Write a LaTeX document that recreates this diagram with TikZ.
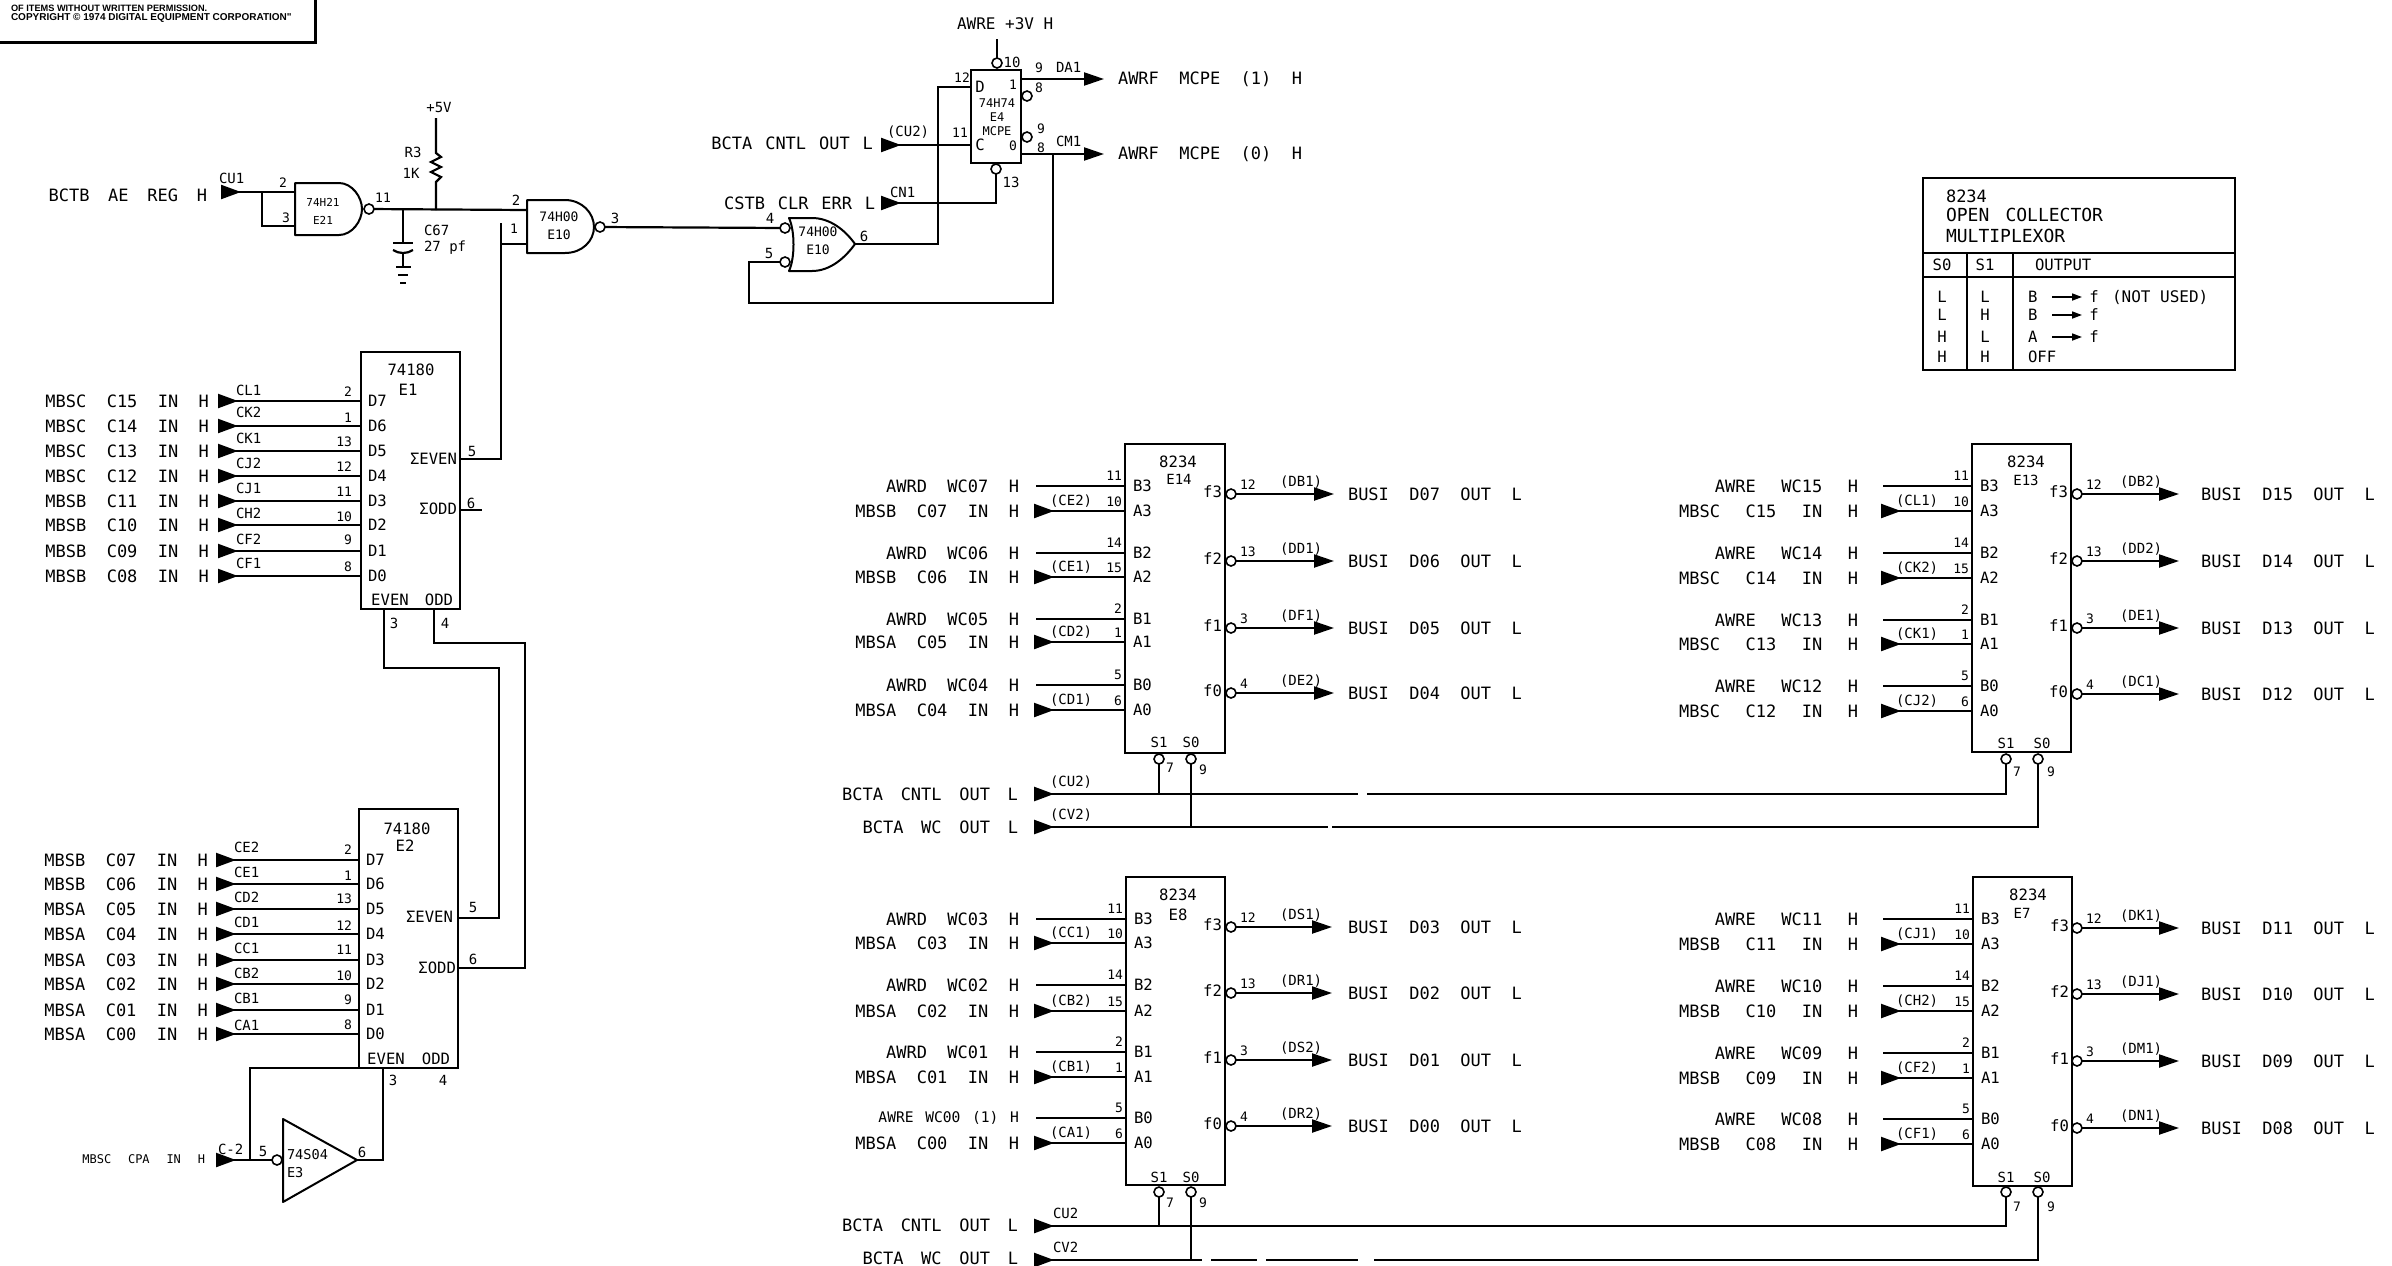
\documentclass[tikz,border=0pt]{standalone}
\usepackage{fontspec}
\usetikzlibrary{arrows.meta}
\newfontfamily\fsig{DejaVu Sans Mono}
\newfontfamily\fcopy{Liberation Sans Bold}
\newcount\lblc
\newcommand\lbl[4][]{\global\advance\lblc by 1\relax\node[pinf,#1] (t\the\lblc) at (#2,#3) {#4};}
\tikzset{
 wire/.style={line width=1.1pt,line join=miter},
 thin wire/.style={line width=0.8pt},
 inw/.style={wire,{Triangle[reversed,length=10pt,width=7pt]}-},
 outw/.style={wire,-{Triangle[length=10pt,width=6.5pt]}},
 bubble/.style={circle,draw,line width=0.8pt,fill=white,minimum size=5pt,inner sep=0,outer sep=0},
 chipbox/.style={draw,line width=1pt,anchor=north west,inner sep=0,outer sep=0},
 gate/.style={line width=1pt,line join=round},
 sigs/.style={font=\fsig\fontsize{8.5}{10}\selectfont\spaceskip #1\relax,inner sep=0,outer sep=0},
 sig/.style={sigs=1.2em},
 sigw/.style={sigs=1.5em},
 pinf/.style={font=\fsig\fontsize{7}{8}\selectfont,inner sep=0,outer sep=0},
 pinn/.style={font=\fsig\fontsize{6.5}{8}\selectfont,inner sep=0,outer sep=0},
 insidef/.style={font=\fsig\fontsize{7.8}{9}\selectfont,inner sep=0,outer sep=0},
 gatef/.style={font=\fsig\fontsize{6.5}{9}\selectfont,inner sep=0,outer sep=0,align=center},
 busgap/.style={white,line width=2.4pt},
 cursig/.style={sig}
}
% 8234 multiplexer helpers
\newcommand\muxchip[5]{\def\cN{#1}\def\cL{#2}\def\cR{#3}%
 \node[chipbox,minimum width={(#3-#2)*0.5pt},minimum height={(#5-#4)*0.5pt}] (#1) at (#2,#4) {};}
\newcommand\muxB[4]{% pin, y, number, signal
 \coordinate (\cN-#1) at (\cL,#2);\coordinate (\cN-#1s) at (\cS,#2);
 \draw[wire] (\cN-#1s) -- (\cN-#1);
 \lbl[cursig,anchor=east]{\cE}{#2}{#4}
 \lbl[pinn,anchor=east]{\cL-3}{#2-10}{#3}
 \lbl[insidef,anchor=west]{\cL+8}{#2}{#1}}
\newcommand\muxA[5]{% pin, y, number, signal, wire label
 \coordinate (\cN-#1) at (\cL,#2);\coordinate (\cN-#1s) at (\cS-2,#2);
 \draw[inw] (\cN-#1s) -- (\cN-#1);
 \lbl[cursig,anchor=east]{\cE}{#2}{#4}
 \lbl[pinn,anchor=east]{\cL-3}{#2-9}{#3}
 \lbl[pinf,anchor=west]{\cW}{#2-10}{#5}
 \lbl[insidef,anchor=west]{\cL+8}{#2}{#1}}
\newcommand\muxF[5]{% index, y, number, wire label, signal
 \node[bubble] (\cN-f#1) at (\cB,#2) {};
 \coordinate (\cN-t#1) at (\cT,#2);
 \draw[outw] (\cN-f#1) -- (\cN-t#1);
 \lbl[insidef,anchor=east]{\cR-3}{#2-2}{f#1}
 \lbl[pinn,anchor=west]{\cB+9}{#2-9}{#3}
 \lbl[pinf,anchor=west]{\cB+\cQ}{#2-12}{#4}
 \lbl[cursig,anchor=west]{\cO}{#2}{#5}}
% 74180 rows
\newcommand\parrow[7]{% pin, y, signal, wire label, wl y, number, number y
 \coordinate (\cN-#1) at (\cL,#2);\coordinate (\cN-#1s) at (\cS,#2);
 \draw[inw] (\cN-#1s) -- (\cN-#1);
 \lbl[sig,anchor=east]{\cE}{#2}{#3}
 \lbl[pinf,anchor=west]{\cW}{#5}{#4}
 \lbl[pinn,anchor=east]{\cP}{#7}{#6}
 \lbl[insidef,anchor=west]{\cL+7}{#2}{#1}}
\begin{document}
\begin{tikzpicture}[x=0.5pt,y=-0.5pt]
\useasboundingbox (0,0) rectangle (2392,1265);
% copyright box
\coordinate (cbA) at (0,42);\coordinate (cbB) at (315,42);\coordinate (cbC) at (315,0);
\draw[line width=1.5pt] (cbA) -- (cbB) -- (cbC);
\lbl[font=\fcopy\fontsize{4.6}{6}\selectfont,anchor=west]{11}{8}{OF ITEMS WITHOUT WRITTEN PERMISSION.}
\lbl[font=\fcopy\fontsize{5}{6}\selectfont,anchor=west]{11}{18}{COPYRIGHT © 1974 DIGITAL EQUIPMENT CORPORATION"}

% ---- E21 NAND
\coordinate (e21a) at (295,192);\coordinate (e21b) at (295,226);\coordinate (e21j) at (262,192);\coordinate (cu1) at (221,192);
\draw[gate] (295,183) -- (339,183) .. controls (352,183) and (362,197) .. (362,209) .. controls (362,221) and (352,235) .. (339,235) -- (295,235) -- cycle;
\node[bubble] (e21o) at (369,209) {};
\draw[inw] (cu1) -- (e21a);
\draw[thin wire] (e21j) |- (e21b);
\lbl[sigs=1.1em,anchor=east]{207}{195}{BCTB AE REG H}
\lbl[pinf,anchor=west]{219}{178}{CU1}
\lbl[pinn]{283}{183}{2}
\lbl[pinn]{286}{218}{3}
\node[gatef,font=\fsig\fontsize{5.5}{9}\selectfont] (E21) at (323,211) {74H21\\E21};
\lbl[pinn]{383}{198}{11}

% ---- E10 NAND
\coordinate (e10a) at (527,210);\coordinate (e10b) at (527,244);
\draw[gate] (527,200) -- (565,200) .. controls (582,200) and (594,213) .. (594,227) .. controls (594,241) and (582,253) .. (565,253) -- (527,253) -- cycle;
\node[bubble] (e10o) at (600,227) {};
\draw[wire] (e21o) -- (e10a);
\node[gatef] (E10a) at (559,226) {74H00\\E10};
\lbl[pinf]{516}{200}{2}
\lbl[pinn]{514}{229}{1}
\lbl[pinf]{615}{218}{3}

% ---- R3 and C67
\coordinate (vcc) at (436,118);\coordinate (r3a) at (436,153);\coordinate (r3b) at (436,182);\coordinate (rj) at (436,210);
\draw[wire] (vcc) -- (r3a) -- ++(5,4) -- ++(-10,5) -- ++(10,5) -- ++(-10,5) -- ++(10,5) -- (r3b) -- (rj);
\lbl[pinf]{439}{107}{+5V}
\lbl[pinf]{413}{152}{R3}
\lbl[pinf]{411}{173}{1K}
\coordinate (cj) at (403,210);\coordinate (cp1) at (403,243);\coordinate (cp2) at (403,252);\coordinate (gnd) at (403,267);
\draw[wire] (cj) -- (cp1);
\draw[wire] (393,243) -- (413,243);
\draw[wire] (393,250) .. controls (399,254) and (407,254) .. (413,250);
\draw[wire] (cp2) -- (gnd);
\draw[wire] (396,267) -- (411,267);
\draw[wire] (398,275) -- (408,275);
\draw[wire] (400,283) -- (406,283);
\lbl[pinf,anchor=west]{424}{230}{C67}
\lbl[pinf,anchor=west]{424}{248}{27 pf}

% ---- E10 NOR-shaped gate
\draw[gate] (789,218) -- (812,218) .. controls (830,218) and (845,230) .. (855,244) .. controls (845,258) and (830,271) .. (812,271) -- (789,271) .. controls (795,258) and (795,231) .. (789,218) -- cycle;
\node[bubble] (n4) at (785,228) {};
\node[bubble] (n5) at (785,262) {};
\coordinate (nout) at (855,244);
\draw[wire] (e10o) -- (n4);
\node[gatef] (E10b) at (818,241) {74H00\\E10};
\lbl[pinf]{770}{218}{4}
\lbl[pinf]{769}{253}{5}
\lbl[pinf]{864}{236}{6}

% ---- E4 flip-flop
\node[chipbox,minimum width=25pt,minimum height=46.5pt] (E4) at (971,70) {};
\coordinate (e4D) at (971,87);\coordinate (e4C) at (971,145);\coordinate (e4Q) at (1021,79);\coordinate (e4N) at (1021,154);
\node[bubble] (e4t) at (997,63) {};
\node[bubble] (e4b) at (996,169) {};
\node[bubble] (e4q1) at (1027,96) {};
\node[bubble] (e4q2) at (1027,137) {};
\coordinate (e4up) at (997,39);
\draw[wire] (e4t) -- (e4up);
\coordinate (dbend) at (938,87);
\draw[wire] (nout) -| (dbend) -- (e4D);
\coordinate (cu2a) at (881,145);
\draw[inw] (cu2a) -- (e4C);
\coordinate (cn1a) at (881,203);
\draw[inw] (cn1a) -| (e4b);
\coordinate (oq1) at (1104,79);\coordinate (oq2) at (1104,154);
\draw[outw] (e4Q) -- (oq1);
\draw[outw] (e4N) -- (oq2);
\coordinate (fb1) at (1053,154);\coordinate (fb2) at (749,303);
\draw[wire] (fb1) |- (fb2) |- (n5);
\lbl[pinf]{1012}{62}{10}
\lbl[pinn]{1039}{68}{9}
\lbl[pinf,anchor=west]{1056}{67}{DA1}
\lbl[pinn]{1013}{85}{1}
\lbl[pinn]{1039}{88}{8}
\lbl[pinn]{962}{78}{12}
\lbl[insidef]{980}{87}{D}
\node[gatef,font=\fsig\fontsize{6}{7}\selectfont] (E4t) at (997,117) {74H74\\E4\\MCPE};
\lbl[pinn]{960}{133}{11}
\lbl[insidef]{980}{145}{C}
\lbl[pinn]{1013}{146}{0}
\lbl[pinn]{1041}{129}{9}
\lbl[pinn]{1041}{148}{8}
\lbl[pinf,anchor=west]{1056}{141}{CM1}
\lbl[pinf]{1011}{182}{13}
\lbl[sig,anchor=west,font=\fsig\fontsize{8}{9}\selectfont]{957}{24}{AWRE +3V H}
\lbl[sig,anchor=west]{1118}{79}{AWRF MCPE (1) H}
\lbl[sig,anchor=west]{1118}{154}{AWRF MCPE (0) H}
\lbl[sigs=0.76em,anchor=east]{873}{143}{BCTA CNTL OUT L}
\lbl[pinf,anchor=west]{887}{132}{(CU2)}
\lbl[sigs=0.75em,anchor=east]{875}{203}{CSTB CLR ERR L}
\lbl[pinf,anchor=west]{890}{192}{CN1}

% ---- E1 74180
\node[chipbox,minimum width=49.5pt,minimum height=128.5pt] (E1) at (361,352) {};
\def\cN{E1}\def\cL{361}\def\cS{218}\def\cE{209}\def\cW{236}\def\cP{352}
\parrow{D7}{401}{MBSC C15 IN H}{CL1}{390}{2}{392}
\parrow{D6}{426}{MBSC C14 IN H}{CK2}{412}{1}{418}
\parrow{D5}{451}{MBSC C13 IN H}{CK1}{438}{13}{442}
\parrow{D4}{476}{MBSC C12 IN H}{CJ2}{463}{12}{467}
\parrow{D3}{501}{MBSB C11 IN H}{CJ1}{488}{11}{492}
\parrow{D2}{525}{MBSB C10 IN H}{CH2}{513}{10}{517}
\parrow{D1}{551}{MBSB C09 IN H}{CF2}{539}{9}{540}
\parrow{D0}{576}{MBSB C08 IN H}{CF1}{563}{8}{567}
\lbl[insidef]{411}{370}{74180}
\lbl[insidef]{408}{390}{E1}
\lbl[insidef,anchor=east]{457}{459}{ΣEVEN}
\lbl[insidef,anchor=east]{457}{509}{ΣODD}
\lbl[insidef]{390}{600}{EVEN}
\lbl[insidef]{439}{600}{ODD}
\lbl[pinf]{472}{451}{5}
\lbl[pinf]{471}{503}{6}
\lbl[pinf]{394}{623}{3}
\lbl[pinf]{445}{623}{4}
\coordinate (e1ev) at (460,459);\coordinate (e1od) at (460,510);\coordinate (e1odx) at (482,510);\coordinate (e1p3) at (384,609);\coordinate (e1p4) at (434,609);
\coordinate (ev1) at (501,223);\coordinate (evT) at (501,244);
\draw[wire] (e1ev) -| (ev1);
\draw[wire] (evT) -- (e10b);
\draw[wire] (e1od) -- (e1odx);

% ---- E2 74180
\node[chipbox,minimum width=49.5pt,minimum height=129.5pt] (E2) at (359,809) {};
\def\cN{E2}\def\cL{359}\def\cS{216}\def\cE{208}\def\cW{234}\def\cP{352}
\parrow{D7}{860}{MBSB C07 IN H}{CE2}{847}{2}{850}
\parrow{D6}{884}{MBSB C06 IN H}{CE1}{872}{1}{876}
\parrow{D5}{909}{MBSA C05 IN H}{CD2}{897}{13}{899}
\parrow{D4}{934}{MBSA C04 IN H}{CD1}{922}{12}{926}
\parrow{D3}{960}{MBSA C03 IN H}{CC1}{948}{11}{950}
\parrow{D2}{984}{MBSA C02 IN H}{CB2}{973}{10}{976}
\parrow{D1}{1010}{MBSA C01 IN H}{CB1}{998}{9}{1000}
\parrow{D0}{1034}{MBSA C00 IN H}{CA1}{1025}{8}{1025}
\lbl[insidef]{407}{829}{74180}
\lbl[insidef]{405}{846}{E2}
\lbl[insidef,anchor=east]{453}{917}{ΣEVEN}
\lbl[insidef,anchor=east]{456}{968}{ΣODD}
\lbl[insidef]{386}{1059}{EVEN}
\lbl[insidef]{436}{1059}{ODD}
\lbl[pinf]{473}{907}{5}
\lbl[pinf]{473}{959}{6}
\lbl[pinf]{393}{1080}{3}
\lbl[pinf]{443}{1080}{4}
\coordinate (e2ev) at (458,918);\coordinate (e2od) at (458,968);\coordinate (e2p3) at (383,1068);\coordinate (e2p4) at (433,1068);
\coordinate (l3a) at (499,668);\coordinate (l3b) at (499,918);\coordinate (l4a) at (525,643);\coordinate (l4b) at (525,968);
\draw[wire] (e1p3) |- (l3a) -- (l3b) -- (e2ev);
\draw[wire] (e1p4) |- (l4a) -- (l4b) -- (e2od);

% ---- E3 inverter
\draw[gate] (283,1119) -- (357,1160) -- (283,1202) -- cycle;
\node[bubble] (e3i) at (277,1160) {};
\coordinate (e3o) at (357,1160);\coordinate (c2a) at (216,1160);\coordinate (e3j) at (250,1160);\coordinate (lpb) at (250,1226);
\draw[inw] (c2a) -- (e3i);
\draw[wire] (e3o) -| (e2p3);
\draw[wire] (e3j) |- (e2p4);
\lbl[pinf,anchor=west]{218}{1149}{C-2}
\lbl[pinf]{263}{1151}{5}
\lbl[pinf]{362}{1152}{6}
\node[gatef,anchor=west,align=left,font=\fsig\fontsize{6.8}{9}\selectfont] (E3) at (287,1164) {74S04\\E3};
\lbl[pinf,anchor=east,font=\fsig\fontsize{6}{7}\selectfont\spaceskip 1.4em\relax]{205}{1159}{MBSC CPA IN H}

% ---- E14
\tikzset{cursig/.style={sig}}
\muxchip{E14}{1125}{1225}{444}{753}
\def\cS{1036}\def\cE{1019}\def\cW{1050}\def\cB{1231}\def\cT{1334}\def\cO{1348}\def\cQ{49}
\muxB{B3}{486}{11}{AWRD WC07 H}
\muxA{A3}{511}{10}{MBSB C07 IN H}{(CE2)}
\muxB{B2}{553}{14}{AWRD WC06 H}
\muxA{A2}{577}{15}{MBSB C06 IN H}{(CE1)}
\muxB{B1}{619}{2}{AWRD WC05 H}
\muxA{A1}{642}{1}{MBSA C05 IN H}{(CD2)}
\muxB{B0}{685}{5}{AWRD WC04 H}
\muxA{A0}{710}{6}{MBSA C04 IN H}{(CD1)}
\muxF{3}{494}{12}{(DB1)}{BUSI D07 OUT L}
\muxF{2}{561}{13}{(DD1)}{BUSI D06 OUT L}
\muxF{1}{628}{3}{(DF1)}{BUSI D05 OUT L}
\muxF{0}{693}{4}{(DE2)}{BUSI D04 OUT L}
\lbl[insidef]{1178}{462}{8234}
\lbl[pinf]{1179}{479}{E14}
\lbl[pinf]{1159}{742}{S1}
\lbl[pinf]{1191}{742}{S0}
\node[bubble] (E14-s1) at (1159,759) {};
\node[bubble] (E14-s0) at (1191,759) {};
\lbl[pinn]{1170}{768}{7}
\lbl[pinn]{1203}{770}{9}

% ---- E13
\tikzset{cursig/.style={sigw}}
\muxchip{E13}{1972}{2071}{444}{752}
\def\cS{1883}\def\cE{1858}\def\cW{1896}\def\cB{2077}\def\cT{2179}\def\cO{2201}\def\cQ{43}
\muxB{B3}{486}{11}{AWRE WC15 H}
\muxA{A3}{511}{10}{MBSC C15 IN H}{(CL1)}
\muxB{B2}{553}{14}{AWRE WC14 H}
\muxA{A2}{578}{15}{MBSC C14 IN H}{(CK2)}
\muxB{B1}{620}{2}{AWRE WC13 H}
\muxA{A1}{644}{1}{MBSC C13 IN H}{(CK1)}
\muxB{B0}{686}{5}{AWRE WC12 H}
\muxA{A0}{711}{6}{MBSC C12 IN H}{(CJ2)}
\tikzset{cursig/.style={sig}}
\muxF{3}{494}{12}{(DB2)}{BUSI D15 OUT L}
\muxF{2}{561}{13}{(DD2)}{BUSI D14 OUT L}
\muxF{1}{628}{3}{(DE1)}{BUSI D13 OUT L}
\muxF{0}{694}{4}{(DC1)}{BUSI D12 OUT L}
\lbl[insidef]{2026}{462}{8234}
\lbl[pinf]{2026}{480}{E13}
\lbl[pinf]{2006}{743}{S1}
\lbl[pinf]{2042}{743}{S0}
\node[bubble] (E13-s1) at (2006,759) {};
\node[bubble] (E13-s0) at (2038,759) {};
\lbl[pinn]{2017}{772}{7}
\lbl[pinn]{2051}{772}{9}

% ---- upper select buses
\coordinate (buAs) at (1034,794);\coordinate (buAj) at (1159,794);
\coordinate (buBs) at (1034,827);\coordinate (buBj) at (1191,827);
\draw[inw,line width=1.3pt] (buAs) -| (E13-s1);
\draw[inw,line width=1.3pt] (buBs) -| (E13-s0);
\draw[wire] (E14-s1) -- (buAj);
\draw[wire] (E14-s0) -- (buBj);
\draw[busgap] (1358,794) -- (1367,794);
\draw[busgap] (1328,827) -- (1332,827);
\lbl[sigs=1.04em,anchor=east]{1018}{794}{BCTA CNTL OUT L}
\lbl[sigs=1.04em,anchor=east]{1018}{827}{BCTA WC OUT L}
\lbl[pinf,anchor=west]{1050}{782}{(CU2)}
\lbl[pinf,anchor=west]{1050}{815}{(CV2)}

% ---- E8
\tikzset{cursig/.style={sig}}
\muxchip{E8}{1126}{1225}{877}{1185}
\def\cS{1036}\def\cE{1019}\def\cW{1050}\def\cB{1231}\def\cT{1332}\def\cO{1348}\def\cQ{49}
\muxB{B3}{919}{11}{AWRD WC03 H}
\muxA{A3}{943}{10}{MBSA C03 IN H}{(CC1)}
\muxB{B2}{985}{14}{AWRD WC02 H}
\muxA{A2}{1011}{15}{MBSA C02 IN H}{(CB2)}
\muxB{B1}{1052}{2}{AWRD WC01 H}
\muxA{A1}{1077}{1}{MBSA C01 IN H}{(CB1)}
\muxB{B0}{1118}{5}{{\fontsize{7.3}{9}\selectfont\spaceskip 0.8em\relax AWRE WC00 (1) H}}
\muxA{A0}{1143}{6}{MBSA C00 IN H}{(CA1)}
\muxF{3}{927}{12}{(DS1)}{BUSI D03 OUT L}
\muxF{2}{993}{13}{(DR1)}{BUSI D02 OUT L}
\muxF{1}{1060}{3}{(DS2)}{BUSI D01 OUT L}
\muxF{0}{1126}{4}{(DR2)}{BUSI D00 OUT L}
\lbl[insidef]{1178}{895}{8234}
\lbl[insidef]{1178}{915}{E8}
\lbl[pinf]{1159}{1177}{S1}
\lbl[pinf]{1191}{1177}{S0}
\node[bubble] (E8-s1) at (1159,1192) {};
\node[bubble] (E8-s0) at (1191,1192) {};
\lbl[pinn]{1170}{1203}{7}
\lbl[pinn]{1203}{1203}{9}

% ---- E7
\tikzset{cursig/.style={sigw}}
\muxchip{E7}{1973}{2072}{877}{1186}
\def\cS{1883}\def\cE{1858}\def\cW{1896}\def\cB{2077}\def\cT{2179}\def\cO{2201}\def\cQ{43}
\muxB{B3}{919}{11}{AWRE WC11 H}
\muxA{A3}{944}{10}{MBSB C11 IN H}{(CJ1)}
\muxB{B2}{986}{14}{AWRE WC10 H}
\muxA{A2}{1011}{15}{MBSB C10 IN H}{(CH2)}
\muxB{B1}{1053}{2}{AWRE WC09 H}
\muxA{A1}{1078}{1}{MBSB C09 IN H}{(CF2)}
\muxB{B0}{1119}{5}{AWRE WC08 H}
\muxA{A0}{1144}{6}{MBSB C08 IN H}{(CF1)}
\tikzset{cursig/.style={sig}}
\muxF{3}{928}{12}{(DK1)}{BUSI D11 OUT L}
\muxF{2}{994}{13}{(DJ1)}{BUSI D10 OUT L}
\muxF{1}{1061}{3}{(DM1)}{BUSI D09 OUT L}
\muxF{0}{1128}{4}{(DN1)}{BUSI D08 OUT L}
\lbl[insidef]{2028}{895}{8234}
\lbl[pinf]{2022}{913}{E7}
\lbl[pinf]{2006}{1177}{S1}
\lbl[pinf]{2042}{1177}{S0}
\node[bubble] (E7-s1) at (2006,1192) {};
\node[bubble] (E7-s0) at (2038,1192) {};
\lbl[pinn]{2017}{1207}{7}
\lbl[pinn]{2051}{1207}{9}

% ---- lower select buses
\coordinate (bvAs) at (1034,1226);\coordinate (bvAj) at (1159,1226);
\coordinate (bvBs) at (1034,1260);\coordinate (bvBj) at (1191,1260);
\draw[inw,line width=1.3pt] (bvAs) -| (E7-s1);
\draw[inw,line width=1.3pt] (bvBs) -| (E7-s0);
\draw[wire] (E8-s1) -- (bvAj);
\draw[wire] (E8-s0) -- (bvBj);
\draw[busgap] (1202,1260) -- (1211,1260);
\draw[busgap] (1257,1260) -- (1266,1260);
\draw[busgap] (1358,1260) -- (1374,1260);
\lbl[sigs=1.04em,anchor=east]{1018}{1225}{BCTA CNTL OUT L}
\lbl[sigs=1.04em,anchor=east]{1018}{1258}{BCTA WC OUT L}
\lbl[pinf,anchor=west]{1053}{1213}{CU2}
\lbl[pinf,anchor=west]{1053}{1247}{CV2}

% ---- function table
\node[chipbox,minimum width=156pt,minimum height=96pt] (tbl) at (1923,178) {};
\coordinate (hL1) at (1923,253);\coordinate (hR1) at (2235,253);
\coordinate (hL2) at (1923,277);\coordinate (hR2) at (2235,277);
\coordinate (v1a) at (1967,253);\coordinate (v1b) at (1967,370);
\coordinate (v2a) at (2013,253);\coordinate (v2b) at (2013,370);
\draw[wire] (hL1) -- (hR1);\draw[wire] (hL2) -- (hR2);
\draw[wire] (v1a) -- (v1b);\draw[wire] (v2a) -- (v2b);
\lbl[sig,anchor=west]{1946}{196}{8234}
\lbl[sig,anchor=west,font=\fsig\fontsize{9}{10}\selectfont\spaceskip 0.9em\relax]{1946}{215}{OPEN COLLECTOR}
\lbl[sig,anchor=west,font=\fsig\fontsize{9}{10}\selectfont]{1946}{236}{MULTIPLEXOR}
\lbl[insidef]{1942}{265}{S0}
\lbl[insidef]{1985}{265}{S1}
\lbl[insidef,anchor=west]{2035}{265}{OUTPUT}
\lbl[insidef]{1942}{297}{L}\lbl[insidef]{1985}{297}{L}
\lbl[insidef]{1942}{315}{L}\lbl[insidef]{1985}{315}{H}
\lbl[insidef]{1942}{337}{H}\lbl[insidef]{1985}{337}{L}
\lbl[insidef]{1942}{357}{H}\lbl[insidef]{1985}{357}{H}
\lbl[insidef,anchor=west]{2028}{297}{B}
\lbl[insidef,anchor=west]{2028}{315}{B}
\lbl[insidef,anchor=west]{2028}{337}{A}
\lbl[insidef,anchor=west]{2028}{357}{OFF}
\lbl[insidef]{2094}{297}{f}\lbl[insidef]{2094}{315}{f}\lbl[insidef]{2094}{337}{f}
\foreach \yy/\nn in {297/a,315/b,337/c}{
 \coordinate (ar\nn s) at (2052,\yy);\coordinate (ar\nn e) at (2082,\yy);
 \draw[line width=0.8pt,-{Triangle[length=5pt,width=3.5pt]}] (ar\nn s) -- (ar\nn e);}
\lbl[insidef,anchor=west,font=\fsig\fontsize{8}{9}\selectfont]{2112}{297}{(NOT USED)}
\end{tikzpicture}
\end{document}
